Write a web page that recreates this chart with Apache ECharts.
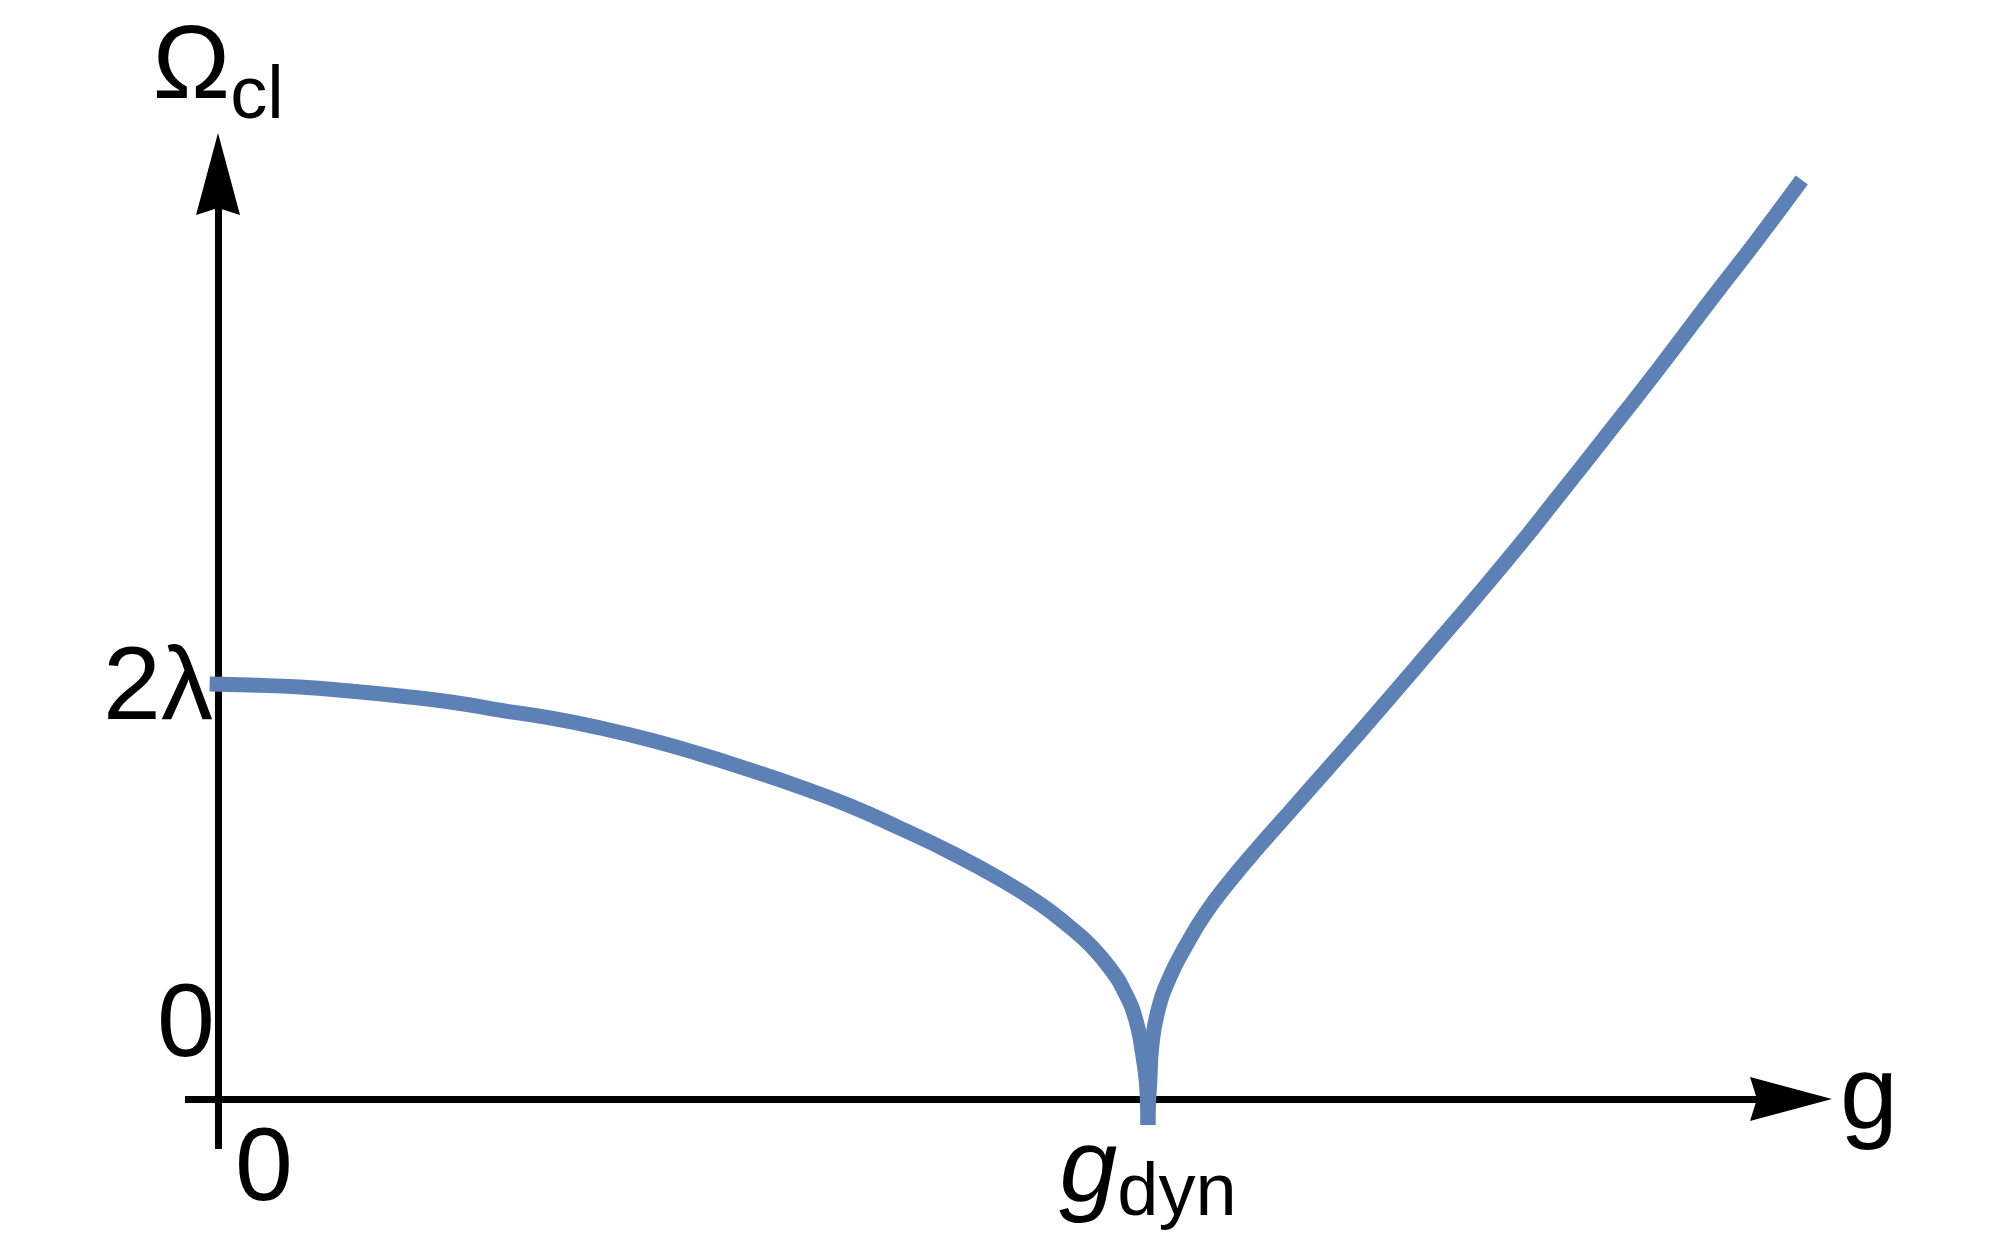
<!DOCTYPE html>
<html>
<head>
<meta charset="utf-8">
<title>Omega_cl versus g</title>
<script src="https://cdn.jsdelivr.net/npm/echarts@6/dist/echarts.min.js"></script>
<style>
  html, body { margin: 0; padding: 0; background: #fff; }
  #chart { width: 2000px; height: 1236px; }
</style>
</head>
<body>
<div id="chart"></div>
<script>
// g in units of g_dyn, Omega_cl in units of lambda (2 = 2λ)
// branch below g_dyn, ending in the little spike under the axis
const leftG = [-0.009, 0.034, 0.088, 0.142, 0.196, 0.250, 0.303, 0.357, 0.411, 0.465,
  0.518, 0.572, 0.626, 0.680, 0.733, 0.787, 0.841, 0.884, 0.916, 0.938,
  0.959, 0.975, 0.987, 0.9935, 0.998, 0.9995, 1.0];
const leftOmega = [1.995, 1.990, 1.981, 1.962, 1.938, 1.909, 1.870, 1.832, 1.784, 1.726,
  1.659, 1.582, 1.500, 1.409, 1.303, 1.188, 1.058, 0.938, 0.827, 0.740,
  0.630, 0.514, 0.380, 0.236, 0.091, -0.03, -0.125];

// branch above g_dyn
const rightG = [1.0, 1.0005, 1.002, 1.004, 1.010, 1.022, 1.040, 1.062, 1.089, 1.119,
  1.154, 1.192, 1.230, 1.267, 1.304, 1.350, 1.395, 1.438, 1.489, 1.548,
  1.605, 1.655, 1.703];
const rightOmega = [-0.125, -0.03, 0.091, 0.250, 0.413, 0.572, 0.731, 0.894, 1.053, 1.212,
  1.389, 1.582, 1.774, 1.966, 2.159, 2.399, 2.639, 2.880, 3.168, 3.505,
  3.841, 4.130, 4.418];

// axis ranges
const gMin = -0.0355, gMax = 1.714;
const omegaMin = -0.24, omegaMax = 4.548;

// tick labels
const yTicks = [0, 2];
const yTickLabels = ['0', '2λ'];
const xTicks = [0, 1];
const xTickLabels = ['0', '{gi|g}{gsub|dyn}'];

const FONT = "'Liberation Sans', Arial, Helvetica, sans-serif";
const CURVE = '#5E81B5';
const ARROW = 'path://M22,0 L44,82 L22,75 L0,82 Z';

const rich = {
  m: { fontFamily: FONT, fontSize: 104, color: '#000', verticalAlign: 'top' },
  gi: { fontFamily: FONT, fontSize: 104, fontStyle: 'italic', color: '#000', verticalAlign: 'top' },
  sub: { fontFamily: FONT, fontSize: 74, color: '#000', verticalAlign: 'top', padding: [44, 0, 0, 0] },
  gsub: { fontFamily: FONT, fontSize: 74, color: '#000', verticalAlign: 'top', padding: [38, 0, 0, 0] }
};

// label offsets (pixels) from the tick position
const yOffsets = [[-32, -72], [-60, 7]];
const xOffsets = [[46, 72], [0, 77]];

const tickData = [];
yTicks.forEach((v, i) => tickData.push({
  value: [0, v],
  label: { formatter: yTickLabels[i], offset: yOffsets[i] }
}));
xTicks.forEach((v, i) => tickData.push({
  value: [v, 0],
  label: { formatter: xTickLabels[i], offset: xOffsets[i] }
}));

function axisBase(min, max) {
  return {
    type: 'value',
    min: min,
    max: max,
    splitLine: { show: false },
    axisTick: { show: false },
    axisLabel: { show: false },
    axisLine: {
      show: true,
      onZero: true,
      symbol: ['none', ARROW],
      symbolSize: [44, 82],
      symbolOffset: [0, -21],
      lineStyle: { color: '#000', width: 7, cap: 'butt' }
    }
  };
}

const chart = echarts.init(document.getElementById('chart'), null, { renderer: 'canvas' });

const xAxis = Object.assign(axisBase(gMin, gMax), {
  name: 'g',
  nameLocation: 'end',
  nameGap: 28,
  nameTextStyle: { fontFamily: FONT, fontSize: 104, color: '#000', padding: [16, 0, 0, 0] }
});
const yAxis = Object.assign(axisBase(omegaMin, omegaMax), {
  name: '{m|Ω}{sub|cl}',
  nameLocation: 'end',
  nameGap: 18,
  nameTextStyle: { fontFamily: FONT, fontSize: 104, color: '#000', rich: rich }
});

const branchStyle = { color: CURVE, width: 15, cap: 'butt', join: 'round' };

chart.setOption({
  animation: false,
  backgroundColor: '#fff',
  grid: { left: 185, right: 188, top: 153, bottom: 87, containLabel: false, outerBoundsMode: 'none' },
  xAxis: xAxis,
  yAxis: yAxis,
  series: [
    {
      name: 'below g_dyn',
      type: 'line',
      data: leftG.map((g, i) => [g, leftOmega[i]]),
      showSymbol: false,
      smooth: 0.5,
      clip: false,
      lineStyle: branchStyle,
      z: 1
    },
    {
      name: 'above g_dyn',
      type: 'line',
      data: rightG.map((g, i) => [g, rightOmega[i]]),
      showSymbol: false,
      smooth: 0.5,
      clip: false,
      lineStyle: branchStyle,
      z: 1
    },
    {
      name: 'ticks',
      type: 'scatter',
      symbolSize: 1,
      itemStyle: { color: 'rgba(0,0,0,0)', opacity: 1 },
      silent: true,
      data: tickData,
      label: {
        show: true,
        position: 'inside',
        fontFamily: FONT,
        fontSize: 104,
        color: '#000',
        opacity: 1,
        textBorderWidth: 0,
        rich: rich
      },
      z: 5
    }
  ]
});

window.addEventListener('resize', chart.resize);
</script>
</body>
</html>
